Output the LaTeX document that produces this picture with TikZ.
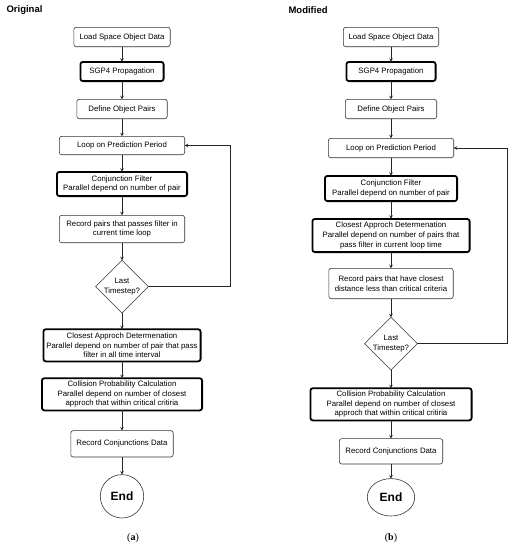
\documentclass[tikz,border=0pt]{standalone}
\usepackage{fontspec}
\setmainfont{Liberation Sans}
\newfontfamily\capfont{Liberation Serif}
\usepackage{tikz}
\usetikzlibrary{shapes.geometric, arrows, positioning, calc}
\tikzstyle{process} = [rectangle, rounded corners=2.5pt, draw=black!80, line width=0.6pt, outer sep=0pt, align=center, inner sep=1pt, font=\fontsize{7.8}{9.6}\selectfont, fill=white]
\tikzstyle{heavy} = [process, draw=black, line width=1.8pt]
\tikzstyle{decision} = [diamond, draw=black!80, line width=0.6pt, outer sep=0pt, aspect=1, inner sep=0pt, align=center, font=\fontsize{7.8}{9.6}\selectfont]
\tikzstyle{terminal} = [ellipse, draw=black!80, line width=0.6pt, outer sep=0pt, inner sep=0pt, font=\fontsize{12}{14}\selectfont\bfseries]
\tikzstyle{arrow} = [->,>=stealth, line width=0.6pt, draw=black!85]

\begin{document}
\begin{tikzpicture}[x=1pt, y=1pt]
    \useasboundingbox (0,0) rectangle (513,-550);

    % Original
    \node (ttlA) [anchor=west, font=\fontsize{9.5}{11}\selectfont\bfseries] at (3,-10) {Original};
    \node (loadA) [process, minimum width=96.4pt, minimum height=19.4pt] at (122,-37) {Load Space Object Data};
    \node (sgpA) [heavy, below=15.2pt of loadA, minimum width=83.2pt, minimum height=19.2pt] {SGP4 Propagation};
    \node (defA) [process, below=18.2pt of sgpA, minimum width=90.4pt, minimum height=19.4pt] {Define Object Pairs};
    \node (loopA) [process, below=17.6pt of defA, minimum width=125.4pt, minimum height=18.4pt] {Loop on Prediction Period};
    \node (conjA) [heavy, below=17.2pt of loopA, minimum width=130.2pt, minimum height=24.2pt] {Conjunction Filter\\Parallel depend on number of pair};
    \node (recA) [process, below=19.2pt of conjA, minimum width=125.4pt, minimum height=27.4pt] {Record pairs that passes filter in\\current time loop};
    \node (diaA) [decision, below=17.6pt of recA, minimum size=51.4pt] {Last\\Timestep?};
    \node (closeA) [heavy, below=16.2pt of diaA, minimum width=157.2pt, minimum height=32.2pt] {Closest Approch Determenation\\Parallel depend on number of pair that pass\\filter in all time interval};
    \node (collA) [heavy, below=16.8pt of closeA, minimum width=160.2pt, minimum height=32.2pt] {Collision Probability Calculation\\Parallel depend on number of closest\\approch that within critical critiria};
    \node (recCA) [process, below=20.2pt of collA, minimum width=102.4pt, minimum height=26.4pt] {Record Conjunctions Data};
    \node (endA) [terminal, below=17.6pt of recCA, minimum width=43.4pt, minimum height=43.4pt] {End};
    \node (capA) [font=\capfont\fontsize{10}{12}\selectfont] at (133,-538) {(\textbf{a})};

    % Modified
    \node (ttlB) [anchor=west, font=\fontsize{9.5}{11}\selectfont\bfseries] at (285,-10) {Modified};
    \node (loadB) [process, minimum width=95.4pt, minimum height=19.4pt] at (391,-37) {Load Space Object Data};
    \node (sgpB) [heavy, below=15.2pt of loadB, minimum width=89.2pt, minimum height=19.2pt] {SGP4 Propagation};
    \node (defB) [process, below=18.2pt of sgpB, minimum width=91.4pt, minimum height=19.4pt] {Define Object Pairs};
    \node (loopB) [process, below=19.6pt of defB, minimum width=125.4pt, minimum height=19.4pt] {Loop on Prediction Period};
    \node (conjB) [heavy, below=18.2pt of loopB, minimum width=132.2pt, minimum height=25.2pt] {Conjunction Filter\\Parallel depend on number of pair};
    \node (closeB) [heavy, below=17.8pt of conjB, minimum width=157.2pt, minimum height=33.2pt] {Closest Approch Determenation\\Parallel depend on number of pairs that\\pass filter in current loop time};
    \node (recB) [process, below=16.2pt of closeB, minimum width=124.4pt, minimum height=30.4pt] {Record pairs that have closest\\distance less than critical criteria};
    \node (diaB) [decision, below=18.6pt of recB, minimum size=51.4pt] {Last\\Timestep?};
    \node (collB) [heavy, below=18.2pt of diaB, minimum width=161.2pt, minimum height=32.2pt] {Collision Probability Calculation\\Parallel depend on number of closest\\approch that within critical critiria};
    \node (recCB) [process, below=18.2pt of collB, minimum width=103.4pt, minimum height=25.4pt] {Record Conjunctions Data};
    \node (endB) [terminal, below=14.6pt of recCB, minimum width=47.4pt, minimum height=37.4pt] {End};
    \node (capB) [font=\capfont\fontsize{10}{12}\selectfont] at (391,-538) {(\textbf{b})};

    % Flechas
    \foreach \s/\t in {loadA/sgpA, sgpA/defA, defA/loopA, loopA/conjA, conjA/recA, recA/diaA, diaA/closeA, closeA/collA, collA/recCA, recCA/endA,
                       loadB/sgpB, sgpB/defB, defB/loopB, loopB/conjB, conjB/closeB, closeB/recB, recB/diaB, diaB/collB, collB/recCB, recCB/endB}
        \draw [arrow] (\s) -- (\t);
    \draw [arrow] (diaA.east) -| ([xshift=46pt]loopA.east) -- (loopA.east);
    \draw [arrow] (diaB.east) -| ([xshift=54pt]loopB.east) -- (loopB.east);
\end{tikzpicture}
\end{document}
